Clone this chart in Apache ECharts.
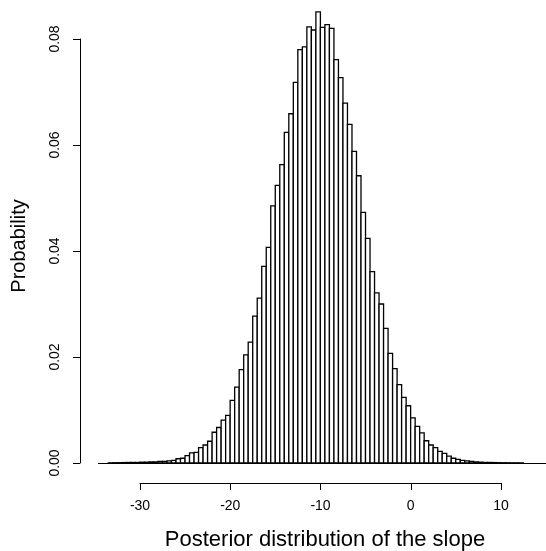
<!DOCTYPE html>
<html>
<head>
<meta charset="utf-8">
<script src="https://cdn.jsdelivr.net/npm/echarts@6/dist/echarts.min.js"></script>
<style>
html,body{margin:0;padding:0;background:#fff;}
#chart{width:546px;height:551px;}
</style>
</head>
<body>
<div id="chart"></div>
<script>
// Histogram bins: left edges (width 0.5) and density values
const binWidth = 0.5;
const binLeft = [
  -33.5,-33,-32.5,-32,-31.5,-31,-30.5,-30,-29.5,-29,-28.5,-28,-27.5,-27,-26.5,-26,-25.5,-25,
  -24.5,-24,-23.5,-23,-22.5,-22,-21.5,-21,-20.5,-20,-19.5,-19,-18.5,-18,-17.5,-17,-16.5,-16,
  -15.5,-15,-14.5,-14,-13.5,-13,-12.5,-12,-11.5,-11,-10.5,-10,-9.5,-9,-8.5,-8,-7.5,-7,-6.5,-6,
  -5.5,-5,-4.5,-4,-3.5,-3,-2.5,-2,-1.5,-1,-0.5,0,0.5,1,1.5,2,2.5,3,3.5,4,4.5,5,5.5,6,6.5,7,
  7.5,8,8.5,9,9.5,10,10.5,11,11.5,12
];
const density = [
  0.00003,0.00005,0.00006,0.00008,0.0001,0.0001,0.0001,0.00015,0.00015,0.0002,0.0002,0.0003,0.0003,0.0004,0.0005,0.0008,0.0009,0.0014,
  0.0019,0.0020,0.0029,0.0034,0.0041,0.0058,0.0067,0.0081,0.0090,0.0118,0.0143,0.0176,0.0204,0.0228,0.0277,0.0311,0.0371,0.0407,
  0.0485,0.0524,0.0563,0.0624,0.0659,0.0718,0.0780,0.0785,0.0823,0.0817,0.0851,0.0822,0.0827,0.0820,0.0761,0.0727,0.0679,0.0639,0.0588,0.0542,
  0.0473,0.0424,0.0361,0.0321,0.0300,0.0254,0.0207,0.0178,0.0148,0.0124,0.0108,0.0085,0.0069,0.0057,0.0042,0.0034,0.0029,0.0022,0.0018,0.0013,0.0009,0.0007,0.0005,0.0004,0.0003,0.0002,
  0.00015,0.0001,0.0001,0.00008,0.00006,0.00005,0.00004,0.00003,0.00003,0.00002
];
const xTicks = [-30, -20, -10, 0, 10];
const yTicks = [0, 0.02, 0.04, 0.06, 0.08];
const xTitle = 'Posterior distribution of the slope';
const yTitle = 'Probability';

const FONT = '"Liberation Sans", Arial, Helvetica, sans-serif';
const chart = echarts.init(document.getElementById('chart'), null, {renderer: 'canvas'});

const histData = binLeft.map((l, i) => [l, l + binWidth, density[i]]);

const option = {
  animation: false,
  backgroundColor: '#fff',
  textStyle: {fontFamily: FONT, color: '#000'},
  grid: [
    {left: 98.4, width: 447.6, top: 0, height: 463},
    {left: 140, width: 361, top: 482, height: 1},
    {left: 80, width: 1, top: 39, height: 424}
  ],
  xAxis: [
    {gridIndex: 0, type: 'value', min: -34.6, max: 15,
     axisLine: {show: true, onZero: false, lineStyle: {color: '#000', width: 1}},
     axisTick: {show: false}, axisLabel: {show: false}, splitLine: {show: false}},
    {gridIndex: 1, type: 'value', min: xTicks[0], max: xTicks[xTicks.length - 1], interval: 10,
     axisLine: {show: true, lineStyle: {color: '#000', width: 1}},
     axisTick: {show: true, inside: false, length: 7, lineStyle: {color: '#000', width: 1}},
     axisLabel: {show: true, margin: 16, fontSize: 14, color: '#000', fontFamily: FONT,
                 formatter: v => String(v)},
     splitLine: {show: false}},
    {gridIndex: 2, type: 'value', min: 0, max: 1, show: false}
  ],
  yAxis: [
    {gridIndex: 0, type: 'value', min: 0, max: 463 / 5300, show: false},
    {gridIndex: 1, type: 'value', min: 0, max: 1, show: false},
    {gridIndex: 2, type: 'value', min: yTicks[0], max: yTicks[yTicks.length - 1], interval: 0.02,
     axisLine: {show: true, lineStyle: {color: '#000', width: 1}},
     axisTick: {show: true, inside: false, length: 7, lineStyle: {color: '#000', width: 1}},
     axisLabel: {show: true, rotate: 90, margin: 18, fontSize: 14, color: '#000', fontFamily: FONT,
                 formatter: v => v.toFixed(2)},
     splitLine: {show: false}}
  ],
  graphic: [
    {type: 'text', x: 325, y: 539.5,
     style: {text: xTitle, font: '22px ' + FONT, fill: '#000', align: 'center', verticalAlign: 'middle'}},
    {type: 'text', x: 19, y: 246, rotation: Math.PI / 2,
     style: {text: yTitle, font: '20px ' + FONT, fill: '#000', align: 'center', verticalAlign: 'middle'}}
  ],
  series: [
    {
      type: 'custom',
      xAxisIndex: 0, yAxisIndex: 0,
      data: histData,
      renderItem: function (params, api) {
        const x0 = api.value(0), x1 = api.value(1), y = api.value(2);
        const p0 = api.coord([x0, y]);
        const p1 = api.coord([x1, 0]);
        return {
          type: 'rect',
          shape: {x: p0[0], y: p0[1], width: p1[0] - p0[0], height: p1[1] - p0[1]},
          style: {fill: '#fff', stroke: '#000', lineWidth: 1.3}
        };
      }
    }
  ]
};
chart.setOption(option);
</script>
</body>
</html>
